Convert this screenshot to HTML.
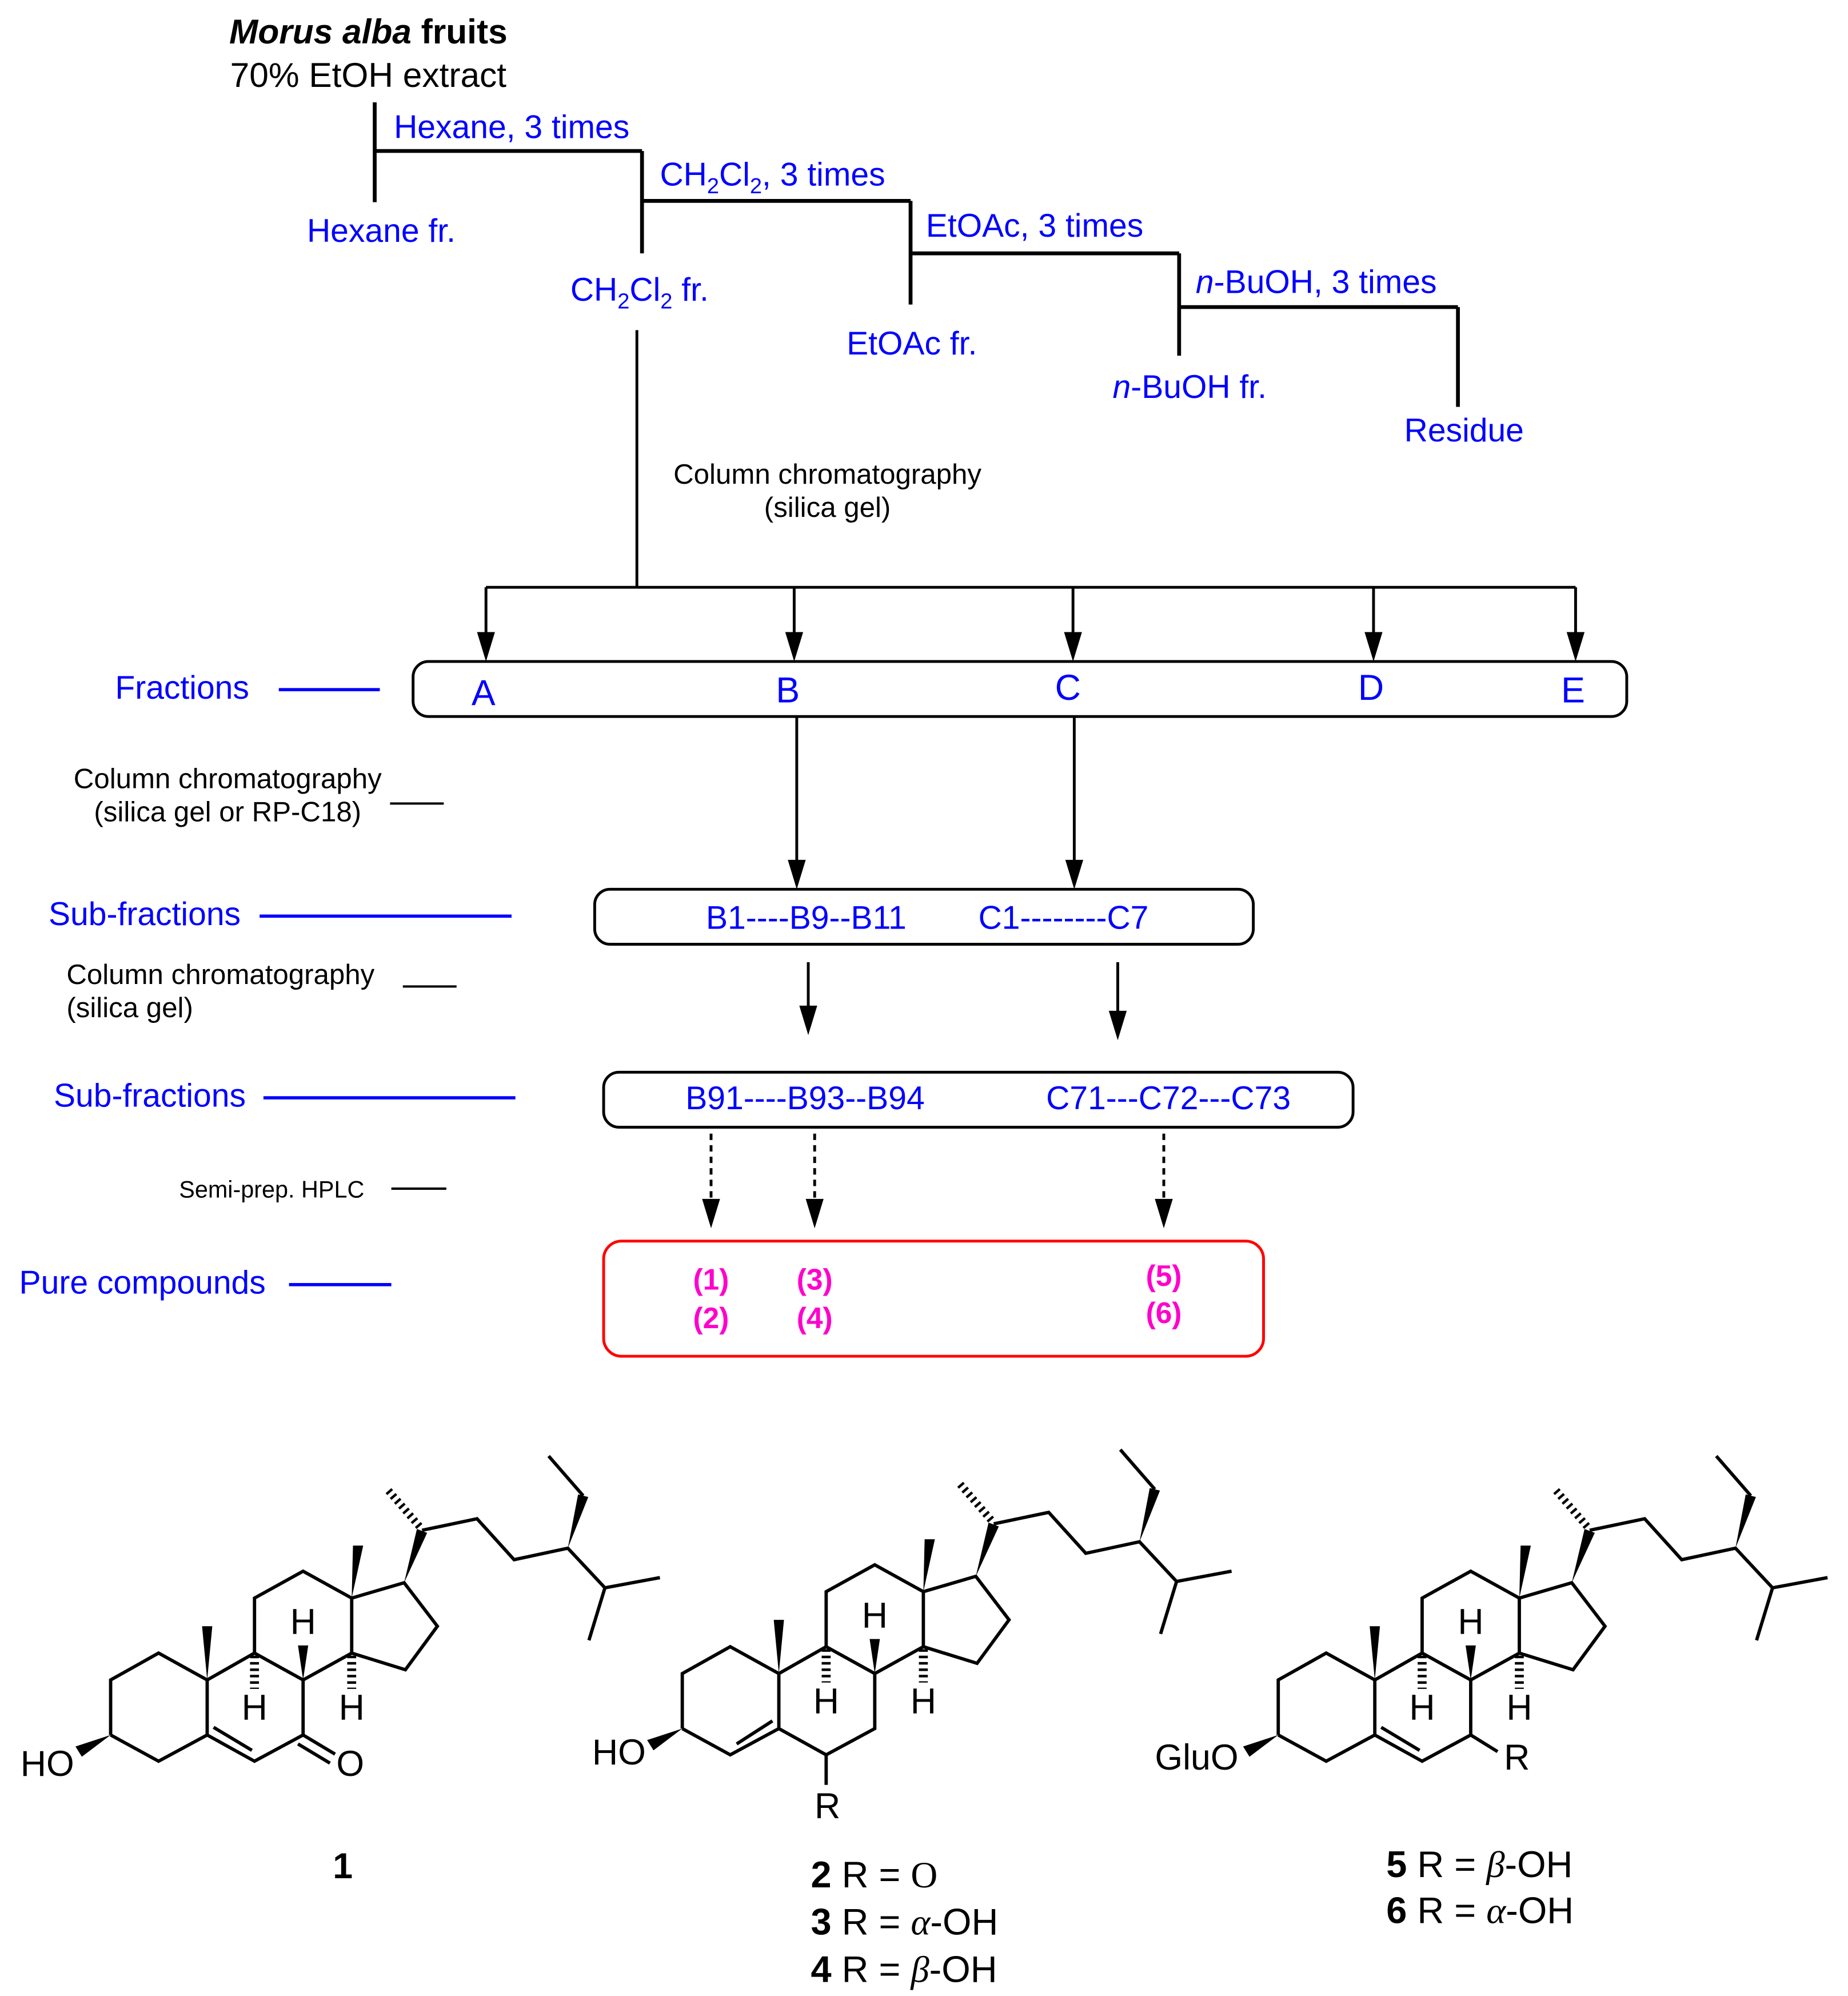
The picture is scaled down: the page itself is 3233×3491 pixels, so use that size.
<!DOCTYPE html>
<html><head><meta charset="utf-8"><style>
html,body{margin:0;padding:0;background:#fff;}
svg{display:block;}
text{font-family:"Liberation Sans",sans-serif;}
</style></head><body>
<svg width="3233" height="3491" viewBox="0 0 1445 1560" preserveAspectRatio="none" xmlns="http://www.w3.org/2000/svg">
<defs>
<g id="skel" fill="none" stroke="#000" stroke-width="2.6" stroke-linejoin="miter">
<polyline points="86.5,1364 86.5,1321 124,1300 162,1321 162,1364 124,1384.5 86.5,1364"/>
<polyline points="162,1364 199,1384.5 237,1364 237,1321 199,1300 162,1321"/>
<polyline points="199,1300 199,1257 237,1236 275,1257 275,1300 237,1321"/>
<polyline points="275,1257 316,1245 342,1279 317,1313 275,1300"/>
<polyline points="330,1204 373,1195 402,1227 444,1218 473,1249 516,1241"/>
<line x1="473" y1="1249" x2="460.5" y2="1290"/>
<line x1="456" y1="1177" x2="429" y2="1146"/>
<line x1="199" y1="1302" x2="199" y2="1328" stroke-width="7" stroke-dasharray="2,3"/>
<line x1="275" y1="1302" x2="275" y2="1328" stroke-width="7" stroke-dasharray="2,3"/>
<line x1="328" y1="1201" x2="302" y2="1171" stroke-width="6" stroke-dasharray="2,3"/>
</g>
<g id="wedges" fill="#000">
<polygon points="162,1321 158,1279 166,1279"/>
<polygon points="275,1257 276,1216 284,1216"/>
<polygon points="316,1245 326,1203 334,1206"/>
<polygon points="444,1218 452,1176 460,1178"/>
<polygon points="237,1321 233,1294 241,1294"/>
<polygon points="86.5,1364 59,1373 64,1381"/>
</g>
<g id="hs" font-size="28" fill="#000" text-anchor="middle">
<text x="199" y="1352">H</text>
<text x="275" y="1352">H</text>
<text x="237" y="1285">H</text>
</g>
</defs>

<g fill="none" stroke="#000" stroke-width="3">
<line x1="293" y1="80" x2="293" y2="158"/>
<line x1="293" y1="118" x2="502" y2="118"/>
<line x1="502" y1="118" x2="502" y2="198"/>
<line x1="502" y1="157" x2="712" y2="157"/>
<line x1="712" y1="157" x2="712" y2="238"/>
<line x1="712" y1="198" x2="922" y2="198"/>
<line x1="922" y1="198" x2="922" y2="278"/>
<line x1="922" y1="240" x2="1140" y2="240"/>
<line x1="1140" y1="240" x2="1140" y2="318"/>
</g>
<text x="288" y="34" font-size="27" text-anchor="middle" font-weight="bold"><tspan font-style="italic">Morus alba</tspan> fruits</text>
<text x="288" y="68" font-size="27" text-anchor="middle">70% EtOH extract</text>
<g fill="#0000ff" font-size="25.5">
<text x="308" y="108">Hexane, 3 times</text>
<text x="240" y="189">Hexane fr.</text>
<text x="516" y="145">CH<tspan font-size="17" dy="6">2</tspan><tspan dy="-6">Cl</tspan><tspan font-size="17" dy="6">2</tspan><tspan dy="-6">, 3 times</tspan></text>
<text x="446" y="235">CH<tspan font-size="17" dy="6">2</tspan><tspan dy="-6">Cl</tspan><tspan font-size="17" dy="6">2</tspan><tspan dy="-6"> fr.</tspan></text>
<text x="724" y="185">EtOAc, 3 times</text>
<text x="662" y="277">EtOAc fr.</text>
<text x="935" y="229"><tspan font-style="italic">n</tspan>-BuOH, 3 times</text>
<text x="870" y="311"><tspan font-style="italic">n</tspan>-BuOH fr.</text>
<text x="1098" y="345">Residue</text>
</g>

<g stroke="#000" stroke-width="2.2" fill="none">
<line x1="498" y1="258" x2="498" y2="459"/>
<line x1="380" y1="459" x2="1232" y2="459"/>
<line x1="380" y1="459" x2="380" y2="505"/>
<line x1="621" y1="459" x2="621" y2="505"/>
<line x1="839" y1="459" x2="839" y2="505"/>
<line x1="1074" y1="459" x2="1074" y2="505"/>
<line x1="1232" y1="459" x2="1232" y2="505"/>
<rect x="323" y="517" width="949" height="43" rx="12"/>
<line x1="623" y1="560" x2="623" y2="683"/>
<line x1="840" y1="560" x2="840" y2="683"/>
<rect x="465" y="695" width="515" height="43" rx="12"/>
<line x1="632" y1="752" x2="632" y2="798"/>
<line x1="874" y1="752" x2="874" y2="802"/>
<rect x="472" y="838" width="586" height="43" rx="12"/>
<line x1="556" y1="886" x2="556" y2="948" stroke-dasharray="5,4"/>
<line x1="637" y1="886" x2="637" y2="948" stroke-dasharray="5,4"/>
<line x1="910" y1="886" x2="910" y2="948" stroke-dasharray="5,4"/>
</g>
<g fill="#000">
<polygon points="373,494 387,494 380,517"/>
<polygon points="614,494 628,494 621,517"/>
<polygon points="832,494 846,494 839,517"/>
<polygon points="1067,494 1081,494 1074,517"/>
<polygon points="1225,494 1239,494 1232,517"/>
<polygon points="616,672 630,672 623,695"/>
<polygon points="833,672 847,672 840,695"/>
<polygon points="625,786 639,786 632,809"/>
<polygon points="867,790 881,790 874,813"/>
<polygon points="549,937 563,937 556,960"/>
<polygon points="630,937 644,937 637,960"/>
<polygon points="903,937 917,937 910,960"/>
</g>
<rect x="472" y="970" width="516" height="90" rx="14" fill="none" stroke="#ff0000" stroke-width="2.2"/>

<g fill="#000" font-size="22">
<text x="647" y="378" text-anchor="middle">Column chromatography</text>
<text x="647" y="404" text-anchor="middle">(silica gel)</text>
<text x="178" y="616" text-anchor="middle">Column chromatography</text>
<text x="178" y="642" text-anchor="middle">(silica gel or RP-C18)</text>
<text x="52" y="769">Column chromatography</text>
<text x="52" y="795">(silica gel)</text>
<text x="140" y="936" font-size="18.5">Semi-prep. HPLC</text>
</g>
<g stroke="#000" stroke-width="1.8">
<line x1="305" y1="628" x2="347" y2="628"/>
<line x1="315" y1="771" x2="357" y2="771"/>
<line x1="306" y1="929" x2="349" y2="929"/>
</g>
<g stroke="#0000ff" stroke-width="2.5">
<line x1="218" y1="539" x2="297" y2="539"/>
<line x1="203" y1="716" x2="400" y2="716"/>
<line x1="206" y1="858" x2="403" y2="858"/>
<line x1="226" y1="1004" x2="306" y2="1004"/>
</g>
<g fill="#0000ff" font-size="25.5">
<text x="90" y="546">Fractions</text>
<text x="38" y="723">Sub-fractions</text>
<text x="42" y="865">Sub-fractions</text>
<text x="15" y="1011">Pure compounds</text>
<text x="552" y="726">B1----B9--B11</text>
<text x="765" y="726">C1--------C7</text>
<text x="536" y="867">B91----B93--B94</text>
<text x="818" y="867">C71---C72---C73</text>
</g>
<g fill="#0000ff" font-size="28" text-anchor="middle">
<text x="378" y="551">A</text>
<text x="616" y="549">B</text>
<text x="835" y="547">C</text>
<text x="1072" y="547">D</text>
<text x="1230" y="549">E</text>
</g>
<g fill="#ff00cc" font-size="23" font-weight="bold" text-anchor="middle">
<text x="556" y="1008">(1)</text>
<text x="556" y="1038">(2)</text>
<text x="637" y="1008">(3)</text>
<text x="637" y="1038">(4)</text>
<text x="910" y="1005">(5)</text>
<text x="910" y="1034">(6)</text>
</g>

<g transform="translate(0,-8)">
<use href="#skel"/><use href="#wedges"/><use href="#hs"/>
<g stroke="#000" stroke-width="2.6">
<line x1="167" y1="1358" x2="197" y2="1376"/>
<line x1="237" y1="1364" x2="262" y2="1379"/>
<line x1="233" y1="1371" x2="258" y2="1386"/>
</g>
<text x="16" y="1396" font-size="28">HO</text>
<text x="263" y="1396" font-size="28">O</text>
</g>
<text x="268" y="1468" font-size="28" font-weight="bold" text-anchor="middle">1</text>

<g transform="translate(447,-13)">
<use href="#skel"/><use href="#wedges"/><use href="#hs"/>
<g stroke="#000" stroke-width="2.6">
<line x1="129" y1="1376" x2="157" y2="1358"/>
<line x1="199" y1="1384.5" x2="199" y2="1408"/>
</g>
<text x="16" y="1392" font-size="28">HO</text>
<text x="200" y="1434" font-size="28" text-anchor="middle">R</text>
</g>
<g font-size="29" fill="#000">
<text x="634" y="1475"><tspan font-weight="bold">2</tspan> R = <tspan font-family="Liberation Serif">O</tspan></text>
<text x="634" y="1512"><tspan font-weight="bold">3</tspan> R = <tspan font-style="italic" font-family="Liberation Serif">α</tspan>-OH</text>
<text x="634" y="1549"><tspan font-weight="bold">4</tspan> R = <tspan font-style="italic" font-family="Liberation Serif">β</tspan>-OH</text>
</g>

<g transform="translate(913,-8)">
<use href="#skel"/><use href="#wedges"/><use href="#hs"/>
<g stroke="#000" stroke-width="2.6">
<line x1="167" y1="1358" x2="197" y2="1376"/>
<line x1="237" y1="1364" x2="258" y2="1377"/>
</g>
<text x="-10" y="1391" font-size="28">GluO</text>
<text x="263" y="1391" font-size="28">R</text>
</g>
<g font-size="29" fill="#000">
<text x="1084" y="1467"><tspan font-weight="bold">5</tspan> R = <tspan font-style="italic" font-family="Liberation Serif">β</tspan>-OH</text>
<text x="1084" y="1503"><tspan font-weight="bold">6</tspan> R = <tspan font-style="italic" font-family="Liberation Serif">α</tspan>-OH</text>
</g>
</svg>
</body></html>
